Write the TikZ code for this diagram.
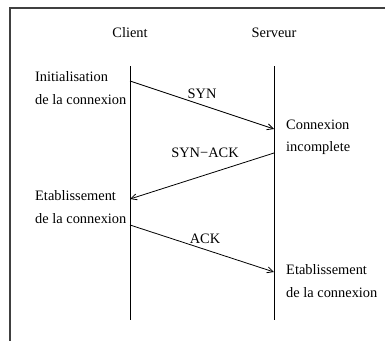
\documentclass[tikz,border=0pt]{standalone}
\usepackage{fontspec}
\setmainfont{Liberation Serif}
\usetikzlibrary{arrows.meta}
\begin{document}
\begin{tikzpicture}[x=1pt,y=-1pt,
  every node/.style={font=\fontsize{14.4}{17}\selectfont, inner sep=0pt},
  lbl/.style={anchor=west},
  life/.style={line width=0.9pt},
  frame/.style={line width=1.2pt, black!75},
  msg/.style={line width=0.8pt,-{Straight Barb[length=6pt,width=6pt]}}]
\useasboundingbox (0,0) rectangle (385,340);
% frame
\coordinate (fbl) at (10,341);
\coordinate (ftl) at (10,8);
\coordinate (ftr) at (386,8);
\draw[frame] (fbl) -- (ftl) -- (ftr);
% headers
\node (client) at (130,33) {Client};
\node (serveur) at (274,33) {Serveur};
% lifelines
\coordinate (ct) at (130,66);
\coordinate (cb) at (130,320);
\coordinate (st) at (274,66);
\coordinate (sb) at (274,320);
\draw[life] (ct) -- (cb);
\draw[life] (st) -- (sb);
% messages
\coordinate (syn1) at (130,81);
\coordinate (syn2) at (274,129);
\coordinate (sa1) at (274,153);
\coordinate (sa2) at (130,199);
\coordinate (ack1) at (130,225);
\coordinate (ack2) at (274,272);
\draw[msg] (syn1) -- (syn2);
\draw[msg] (sa1) -- (sa2);
\draw[msg] (ack1) -- (ack2);
\node (lsyn) at (202,94) {SYN};
\node (lsa) at (205,153) {SYN−ACK};
\node (lack) at (205,239) {ACK};
% state labels
\node[lbl] (init1) at (35,77) {Initialisation};
\node[lbl] (init2) at (35,100) {de la connexion};
\node[lbl] (inc1) at (286,125) {Connexion};
\node[lbl] (inc2) at (286,148) {incomplete};
\node[lbl] (etc1) at (35,196) {Etablissement};
\node[lbl] (etc2) at (35,219) {de la connexion};
\node[lbl] (ets1) at (286,270) {Etablissement};
\node[lbl] (ets2) at (286,293) {de la connexion};
\end{tikzpicture}
\end{document}
